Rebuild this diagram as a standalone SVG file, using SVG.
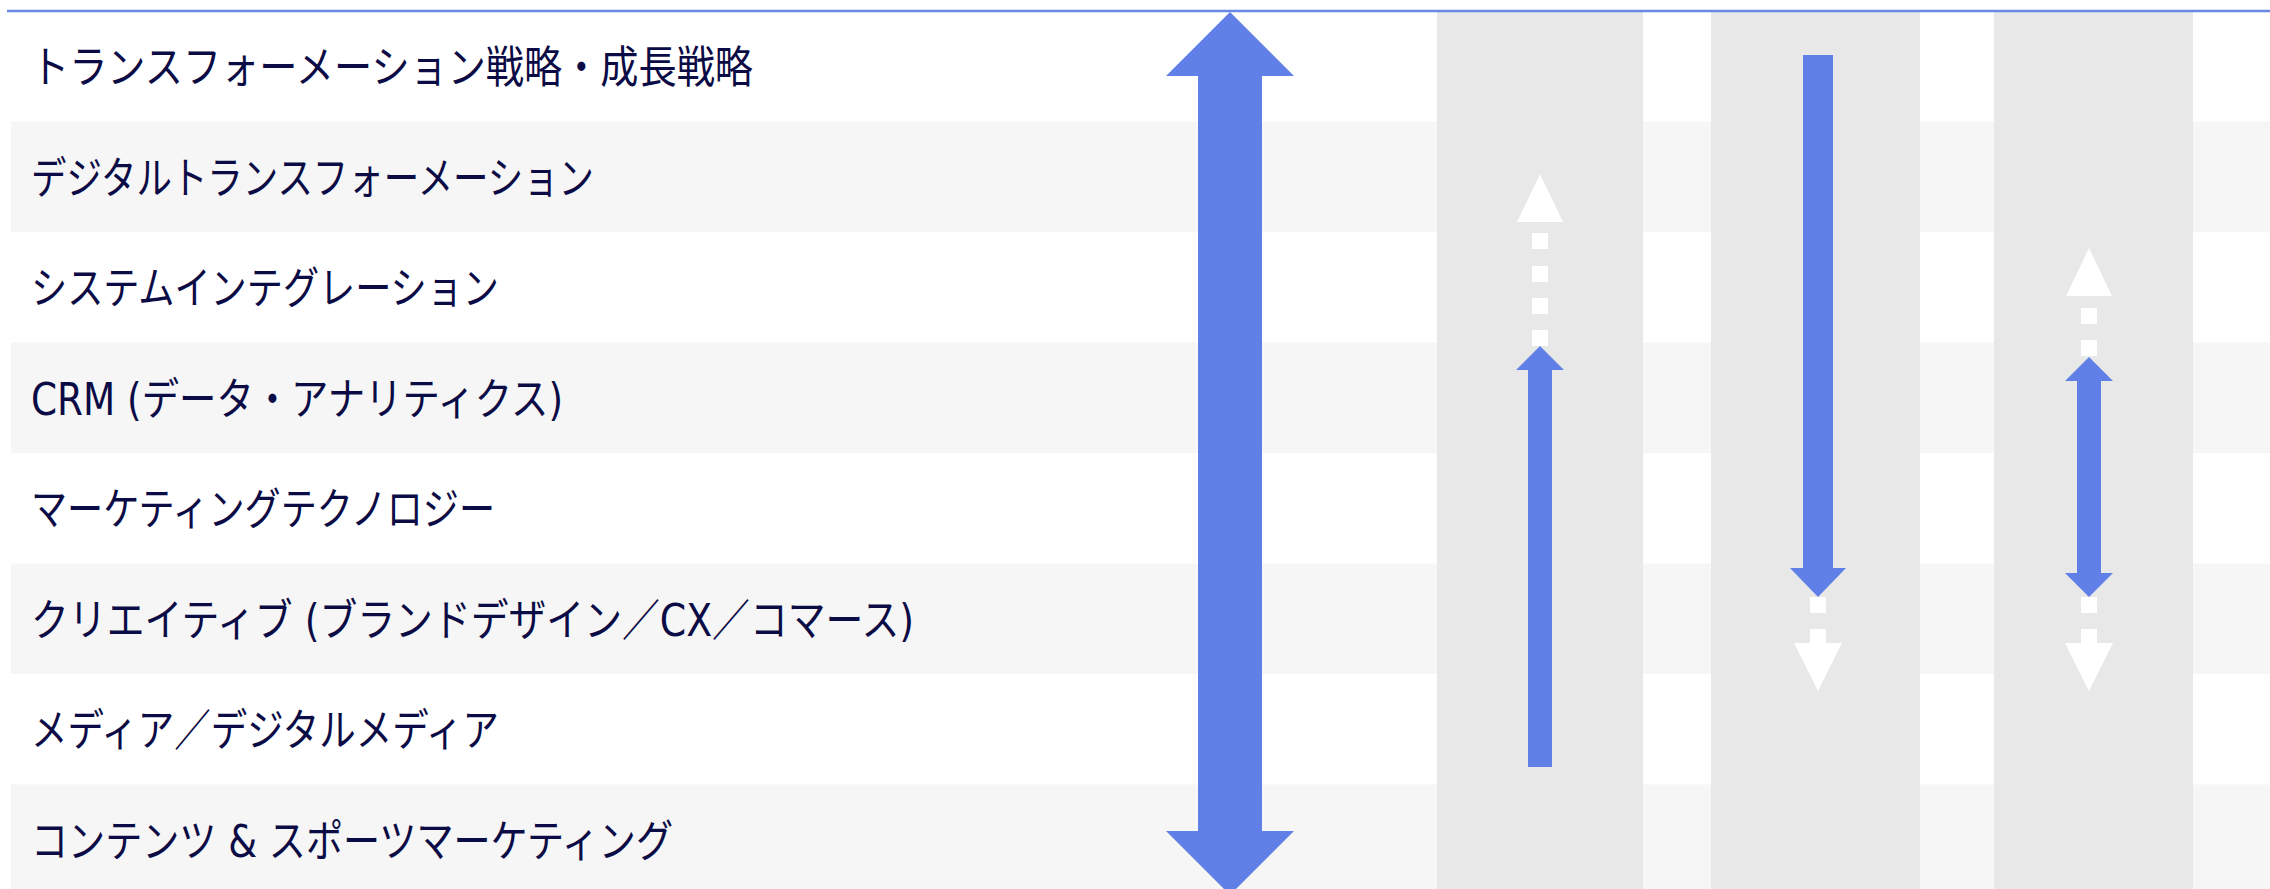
<svg xmlns="http://www.w3.org/2000/svg" width="2270" height="889" viewBox="0 0 2270 889">
<style>
.bg{fill:#ffffff}
.alt{fill:#f6f6f6}
.band{fill:#e8e8e8}
.lbl{font-family:"DejaVu Sans","Noto Sans CJK JP",sans-serif;font-size:44px;fill:#0b0b45}
.blue{fill:#6080e8}
.wht{fill:#ffffff}
</style>
<rect x="0" y="0" width="2270" height="889" fill="#ffffff"/>
<g id="rows">
  <g id="row1"><rect class="bg" x="11" y="11" width="2259" height="110.5"/><text class="lbl" x="31" y="83" textLength="722" lengthAdjust="spacingAndGlyphs">トランスフォーメーション戦略・成長戦略</text></g>
  <g id="row2"><rect class="alt" x="11" y="121.5" width="2259" height="110.5"/><text class="lbl" x="31" y="193.5" textLength="563" lengthAdjust="spacingAndGlyphs">デジタルトランスフォーメーション</text></g>
  <g id="row3"><rect class="bg" x="11" y="232" width="2259" height="110.5"/><text class="lbl" x="31" y="304" textLength="468" lengthAdjust="spacingAndGlyphs">システムインテグレーション</text></g>
  <g id="row4"><rect class="alt" x="11" y="342.5" width="2259" height="110.5"/><text class="lbl" x="31" y="414.5" textLength="532" lengthAdjust="spacingAndGlyphs">CRM (データ・アナリティクス)</text></g>
  <g id="row5"><rect class="bg" x="11" y="453" width="2259" height="110.5"/><text class="lbl" x="31" y="525" textLength="464" lengthAdjust="spacingAndGlyphs">マーケティングテクノロジー</text></g>
  <g id="row6"><rect class="alt" x="11" y="563.5" width="2259" height="110.5"/><text class="lbl" x="31" y="635.5" textLength="883" lengthAdjust="spacingAndGlyphs">クリエイティブ (ブランドデザイン／CX／コマース)</text></g>
  <g id="row7"><rect class="bg" x="11" y="674" width="2259" height="110.5"/><text class="lbl" x="31" y="746" textLength="468" lengthAdjust="spacingAndGlyphs">メディア／デジタルメディア</text></g>
  <g id="row8"><rect class="alt" x="11" y="784.5" width="2259" height="110.5"/><text class="lbl" x="31" y="856.5" textLength="642" lengthAdjust="spacingAndGlyphs">コンテンツ &amp; スポーツマーケティング</text></g>
</g>
<g id="columns">
  <rect id="col1" class="band" x="1437" y="12" width="206" height="877"/>
  <rect id="col2" class="band" x="1711" y="12" width="209" height="877"/>
  <rect id="col3" class="band" x="1994" y="12" width="199" height="877"/>
</g>
<line id="topline" x1="7" y1="11" x2="2270" y2="11" stroke="#6a88e6" stroke-width="2.5"/>
<g id="connectors">
  <polygon id="bigarrow" class="blue" points="1230,12 1294,76 1262,76 1262,831 1294,831 1230,895 1166,831 1198,831 1198,76 1166,76"/>
  <g id="col1-arrows">
    <polygon class="wht" points="1540,174 1563,222 1517,222"/>
    <rect class="wht" x="1532" y="233" width="16" height="16"/>
    <rect class="wht" x="1532" y="266" width="16" height="16"/>
    <rect class="wht" x="1532" y="298" width="16" height="16"/>
    <rect class="wht" x="1532" y="330" width="16" height="16"/>
    <polygon class="blue" points="1540,346 1564,370 1552,370 1552,767 1528,767 1528,370 1516,370"/>
  </g>
  <g id="col2-arrows">
    <polygon class="blue" points="1803,55 1833,55 1833,568 1846,568 1818,597 1790,568 1803,568"/>
    <rect class="wht" x="1810" y="597" width="16" height="16"/>
    <polygon class="wht" points="1810,629 1826,629 1826,643 1842,643 1818,691 1794,643 1810,643"/>
  </g>
  <g id="col3-arrows">
    <polygon class="wht" points="2089,248 2112,296 2066,296"/>
    <rect class="wht" x="2081" y="308" width="16" height="16"/>
    <rect class="wht" x="2081" y="340" width="16" height="16"/>
    <polygon class="blue" points="2089,357 2113,381 2101,381 2101,573 2113,573 2089,597 2065,573 2077,573 2077,381 2065,381"/>
    <rect class="wht" x="2081" y="597" width="16" height="16"/>
    <polygon class="wht" points="2081,629 2097,629 2097,643 2113,643 2089,691 2065,643 2081,643"/>
  </g>
</g>
</svg>
